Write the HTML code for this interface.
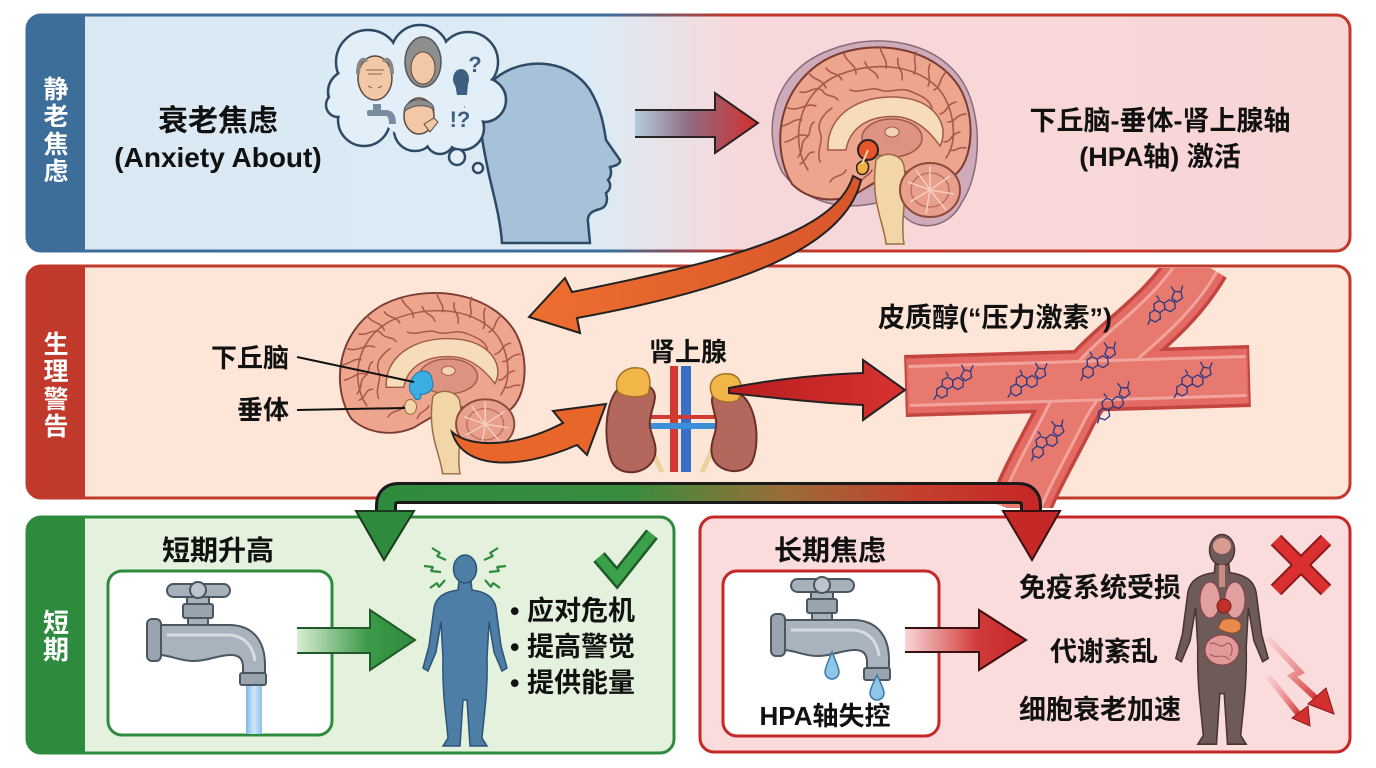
<!DOCTYPE html>
<html><head><meta charset="utf-8"><style>
html,body{margin:0;padding:0;background:#fff;}
svg{display:block;}
</style></head><body>
<svg width="1376" height="768" viewBox="0 0 1376 768" xmlns="http://www.w3.org/2000/svg" font-family="'Liberation Sans','Noto Sans CJK SC',sans-serif" font-weight="bold">
<defs>
  <linearGradient id="tg" gradientUnits="userSpaceOnUse" x1="27" y1="0" x2="1350" y2="0">
    <stop offset="0" stop-color="#d9e8f3"/><stop offset="0.43" stop-color="#dcebf5"/>
    <stop offset="0.54" stop-color="#f7d8da"/><stop offset="1" stop-color="#f8d6d6"/>
  </linearGradient>
  <linearGradient id="ts" gradientUnits="userSpaceOnUse" x1="27" y1="0" x2="1350" y2="0">
    <stop offset="0" stop-color="#3d6e9a"/><stop offset="0.44" stop-color="#3d6e9a"/>
    <stop offset="0.53" stop-color="#c0392b"/><stop offset="1" stop-color="#c0392b"/>
  </linearGradient>
  <linearGradient id="at" gradientUnits="userSpaceOnUse" x1="635" y1="0" x2="758" y2="0">
    <stop offset="0" stop-color="#b4cde0"/><stop offset="0.45" stop-color="#8f6a80"/><stop offset="1" stop-color="#d62e2e"/>
  </linearGradient>
  <linearGradient id="ga" gradientUnits="userSpaceOnUse" x1="297" y1="0" x2="415" y2="0">
    <stop offset="0" stop-color="#d9ecd3"/><stop offset="0.6" stop-color="#3c9a4a"/><stop offset="1" stop-color="#2e8b3e"/>
  </linearGradient>
  <linearGradient id="ra" gradientUnits="userSpaceOnUse" x1="905" y1="0" x2="1026" y2="0">
    <stop offset="0" stop-color="#f8d6d6"/><stop offset="0.6" stop-color="#d03a3a"/><stop offset="1" stop-color="#c62828"/>
  </linearGradient>
  <linearGradient id="bar" gradientUnits="userSpaceOnUse" x1="386" y1="0" x2="1031" y2="0">
    <stop offset="0" stop-color="#2e8b3e"/><stop offset="0.38" stop-color="#3a8d3e"/>
    <stop offset="0.62" stop-color="#9a6c38"/><stop offset="0.82" stop-color="#c4402e"/><stop offset="1" stop-color="#c62828"/>
  </linearGradient>
  <linearGradient id="og" gradientUnits="userSpaceOnUse" x1="860" y1="0" x2="530" y2="0">
    <stop offset="0" stop-color="#d8562a"/><stop offset="1" stop-color="#ee6e30"/>
  </linearGradient>
  <linearGradient id="wat" x1="0" y1="0" x2="1" y2="0">
    <stop offset="0" stop-color="#7fb8e4"/><stop offset="0.5" stop-color="#cfe8f8"/><stop offset="1" stop-color="#8cc2ea"/>
  </linearGradient>
  <linearGradient id="rdg" gradientUnits="userSpaceOnUse" x1="729" y1="0" x2="905" y2="0">
    <stop offset="0" stop-color="#b81e1e"/><stop offset="1" stop-color="#d83232"/>
  </linearGradient>
  <linearGradient id="zz" x1="0" y1="0" x2="1" y2="1">
    <stop offset="0" stop-color="#f3b0b0" stop-opacity="0.3"/><stop offset="1" stop-color="#d32f2f"/>
  </linearGradient>
  <clipPath id="vclip"><rect x="890" y="268" width="400" height="240"/></clipPath>

  <g id="brain">
    <path d="M22,142 C2,110 4,48 55,18 C100,-6 168,4 192,50 C206,80 202,118 186,132 C172,138 152,128 132,130 C115,133 102,142 86,152 C64,162 38,158 22,142 Z" fill="#eea58d" stroke="#7a3b30" stroke-width="2"/>
    <g fill="none" stroke="#a8584a" stroke-width="1.6" stroke-linecap="round">
      <path d="M38,128 C22,104 24,58 62,36 C102,16 156,22 175,56 C186,78 186,102 176,116"/>
      <path d="M15,100 C25,98 28,90 38,94"/><path d="M18,66 C30,70 36,60 46,64"/>
      <path d="M38,30 C45,40 52,36 56,46"/><path d="M74,12 C78,22 86,22 86,32"/>
      <path d="M110,5 C112,15 118,18 116,26"/><path d="M146,10 C142,20 148,24 144,32"/>
      <path d="M176,30 C168,38 172,44 164,48"/><path d="M196,72 C186,72 186,80 178,80"/>
      <path d="M196,106 C188,104 186,110 180,108"/><path d="M30,122 C38,118 36,110 44,110"/>
      <path d="M50,120 C46,108 54,100 50,90 C46,80 56,70 62,66"/>
      <path d="M80,48 C90,52 100,44 110,48 C120,52 130,44 142,50 C152,54 160,58 162,66"/>
      <path d="M28,115 C34,108 30,100 36,96 C42,92 38,84 44,80"/>
      <path d="M30,50 C40,52 42,44 52,48 C56,56 64,52 68,58"/>
      <path d="M95,20 C98,30 106,28 108,36"/><path d="M128,16 C126,26 134,28 132,38"/>
      <path d="M160,22 C156,32 162,36 158,44"/><path d="M186,60 C176,62 178,70 170,72"/>
      <path d="M190,90 C180,92 182,100 174,100"/><path d="M60,140 C64,132 72,136 76,128"/>
      <path d="M90,142 C92,134 100,134 102,128"/><path d="M12,84 C22,82 24,76 32,78"/>
      <path d="M56,26 C62,34 68,30 72,38"/>
    </g>
    <path d="M58,108 C56,70 95,50 135,56 C165,60 180,84 170,104 C163,94 150,78 130,75 C100,72 80,85 76,108 Z" fill="#f6dcb8" stroke="#a05a4a" stroke-width="1.5"/>
    <ellipse cx="122" cy="96" rx="30" ry="19" fill="#dd9282" stroke="#a05a4a" stroke-width="1.5"/>
    <ellipse cx="122" cy="90" rx="7" ry="5" fill="#f5d2b5" stroke="#a05a4a" stroke-width="1"/>
    <path d="M106,118 C114,108 132,112 134,124 C138,150 130,178 134,202 L116,202 C114,180 100,160 106,118 Z" fill="#f3d6a8" stroke="#9a6a40" stroke-width="1.5"/>
    <ellipse cx="160" cy="148" rx="30" ry="27" fill="#e8a08c" stroke="#8b4a3c" stroke-width="2"/>
    <g stroke="#f7cdbd" stroke-width="1.5" fill="none">
      <ellipse cx="160" cy="148" rx="19" ry="17" stroke="#c0705e"/>
      <path d="M160,148 L160,124 M160,148 L180,134 M160,148 L184,152 M160,148 L176,168 M160,148 L156,172 M160,148 L140,160 M160,148 L138,140 M160,148 L146,128"/>
    </g>
  </g>

  <g id="faucet">
    <rect x="40" y="12" width="22" height="12" fill="#a7b1bb" stroke="#4b5661" stroke-width="2"/>
    <rect x="20" y="1" width="63" height="13" rx="6.5" fill="#a7b1bb" stroke="#4b5661" stroke-width="2"/>
    <circle cx="51" cy="7" r="8" fill="#bcc5ce" stroke="#4b5661" stroke-width="2"/>
    <rect x="41" y="32" width="20" height="12" fill="#a7b1bb" stroke="#4b5661" stroke-width="2"/>
    <rect x="36" y="21" width="30" height="14" rx="2" fill="#9aa4ae" stroke="#4b5661" stroke-width="2"/>
    <path d="M12,42 H82 C106,42 118,58 118,82 V92 H96 V84 C96,76 92,72 84,72 C70,72 62,78 46,78 C32,78 24,72 12,72 Z" fill="#a9b3bd" stroke="#4b5661" stroke-width="2"/>
    <path d="M20,52 H80 C96,52 106,62 108,78" fill="none" stroke="#d5dce2" stroke-width="3"/>
    <rect x="0" y="36" width="14" height="42" rx="5" fill="#9aa4ae" stroke="#4b5661" stroke-width="2"/>
    <rect x="93" y="90" width="26" height="12" rx="2" fill="#9aa4ae" stroke="#4b5661" stroke-width="2"/>
  </g>

  <g id="mol" fill="none" stroke="#2b3a80" stroke-width="1.3">
    <path d="M6,0 L3,5.2 L-3,5.2 L-6,0 L-3,-5.2 L3,-5.2 Z"/>
    <path d="M16,-6 L13,-0.8 L7,-0.8 L4,-6 L7,-11.2 L13,-11.2 Z" transform="translate(-1,0.8)"/>
    <path d="M26,0 L23,5.2 L17,5.2 L14,0 L17,-5.2 L23,-5.2 Z" transform="translate(-2,0)"/>
    <path d="M24,-5 L30,-9 L35,-5 L33,1 L26,1 Z"/>
    <path d="M35,-5 L40,-9 M30,-9 L30,-15 M-6,0 L-11,3 M13,-11 L13,-16"/>
  </g>

  <path id="person" d="M459,581 L471,581 L472,590 C486,592 494,597 496,608 L501,646 L507,668 L502,671 L494,652 L489,622 L487,658 C488,690 484,716 482,738 L487,746 L470,746 L467,700 L463,700 L460,746 L443,746 L448,738 C446,716 442,690 443,658 L441,622 L436,652 L428,671 L423,668 L429,646 L434,608 C436,597 444,592 458,590 Z"/>
</defs>

<!-- ============ TOP PANEL ============ -->
<rect x="27" y="15" width="1323" height="236" rx="14" fill="url(#tg)"/>
<path d="M41,15 H85 V251 H41 A14,14 0 0 1 27,237 V29 A14,14 0 0 1 41,15 Z" fill="#3d6e9a"/>
<rect x="27" y="15" width="1323" height="236" rx="14" fill="none" stroke="url(#ts)" stroke-width="3"/>
<g fill="#fff" font-size="25" text-anchor="middle">
  <text x="56" y="98">静</text><text x="56" y="125">老</text><text x="56" y="153">焦</text><text x="56" y="180">虑</text>
</g>
<text x="218" y="131" font-size="30" text-anchor="middle" fill="#111">衰老焦虑</text>
<text x="218" y="167" font-size="28" text-anchor="middle" fill="#111">(Anxiety About)</text>

<!-- head silhouette -->
<path d="M502,243 C500,215 492,190 488,170 C480,130 470,90 505,72 C530,58 570,60 590,90 C602,110 604,128 606,140 L620,160 C621,164 615,166 610,167 C612,172 611,177 608,180 C612,185 610,190 606,193 C608,200 607,207 600,209 C592,211 587,214 588,222 L590,243 Z" fill="#a7c1d8" stroke="#2d4a66" stroke-width="2.5"/>
<!-- thought cloud -->
<g fill="#e3eff8" stroke="#2d4a66" stroke-width="2.5">
  <circle cx="368" cy="62" r="32"/><circle cx="420" cy="54" r="29"/><circle cx="468" cy="62" r="30"/>
  <circle cx="484" cy="100" r="22"/><circle cx="462" cy="128" r="22"/><circle cx="415" cy="130" r="21"/>
  <circle cx="364" cy="120" r="26"/><circle cx="350" cy="92" r="22"/><circle cx="338" cy="105" r="12"/>
  <circle cx="440" cy="140" r="14"/>
  <circle cx="457" cy="157" r="8"/><circle cx="478" cy="168" r="5"/>
</g>
<g fill="#e3eff8">
  <circle cx="368" cy="62" r="30.5"/><circle cx="420" cy="54" r="27.5"/><circle cx="468" cy="62" r="28.5"/>
  <circle cx="484" cy="100" r="20.5"/><circle cx="462" cy="128" r="20.5"/><circle cx="415" cy="130" r="19.5"/>
  <circle cx="364" cy="120" r="24.5"/><circle cx="350" cy="92" r="20.5"/><circle cx="338" cy="105" r="10.5"/>
  <circle cx="440" cy="140" r="12.5"/><circle cx="420" cy="94" r="46"/>
</g>
<!-- cloud icons -->
<ellipse cx="375" cy="78" rx="17" ry="22" fill="#f3c8a6" stroke="#5a4a40" stroke-width="1.5"/>
<path d="M358,74 C358,60 364,57 366,62 M392,74 C392,60 386,57 384,62" fill="none" stroke="#888" stroke-width="4"/>
<path d="M366,70 H384 M368,74 H382 M368,86 L372,88 M378,88 L382,86" stroke="#8a6450" stroke-width="1"/>
<ellipse cx="423" cy="62" rx="18" ry="25" fill="#8e8e8e" stroke="#555" stroke-width="1.5"/>
<ellipse cx="423" cy="68" rx="12" ry="16" fill="#f3c8a6" stroke="#5a4a40" stroke-width="1"/>
<ellipse cx="461" cy="79" rx="8" ry="10" fill="#3d5f80"/>
<path d="M455,84 L468,84 L467,95 L457,95 Z" fill="#3d5f80"/>
<text x="475" y="72" font-size="22" fill="#3d5f80" text-anchor="middle">?</text>
<rect x="367" y="110" width="20" height="6" rx="2" fill="#7a8da0"/>
<rect x="373" y="104" width="8" height="7" fill="#7a8da0"/>
<path d="M385,110 C394,110 396,116 396,124 H389 C389,118 388,116 385,116 Z" fill="#7a8da0"/>
<ellipse cx="419" cy="116" rx="15" ry="18" fill="#f3c8a6" stroke="#5a4a40" stroke-width="1.5"/>
<path d="M404,112 C404,96 434,96 434,110 C428,104 412,104 404,112 Z" fill="#8e8e8e" stroke="#555" stroke-width="1"/>
<path d="M424,124 L434,118 L438,122 L430,132 Z" fill="#f3c8a6" stroke="#5a4a40" stroke-width="1"/>
<text x="460" y="127" font-size="22" fill="#3d5f80" text-anchor="middle">!?</text>

<!-- top arrow -->
<path d="M635,110 H715 V93 L758,123 L715,153 V137 H635" fill="url(#at)" stroke="#2b2222" stroke-width="2" stroke-linejoin="miter"/>

<!-- top brain -->
<path d="M12,130 C-8,90 0,30 60,8 C110,-12 180,0 200,55 C214,95 206,140 192,160 C180,186 150,190 135,175 L110,160 C80,168 40,166 12,130 Z" transform="translate(770,42)" fill="#cfaab8" stroke="#8a6a7a" stroke-width="1.5"/>
<use href="#brain" transform="translate(770,42)"/>
<circle cx="868" cy="150" r="10" fill="#e8542a" stroke="#222" stroke-width="2"/>
<path d="M860,162 C866,158 870,164 868,170 C866,176 858,176 857,170 C856,166 857,164 860,162 Z" fill="#f0b040" stroke="#222" stroke-width="1.5"/>
<path d="M868,150 L862,164" stroke="#f6d6a0" stroke-width="2"/>

<text x="1160" y="130" font-size="27" text-anchor="middle" fill="#111">下丘脑-垂体-肾上腺轴</text>
<text x="1160" y="166" font-size="27" text-anchor="middle" fill="#111">(HPA轴) 激活</text>

<!-- ============ MIDDLE PANEL ============ -->
<rect x="27" y="266" width="1323" height="232" rx="14" fill="#fde6d8"/>
<path d="M41,266 H85 V498 H41 A14,14 0 0 1 27,484 V280 A14,14 0 0 1 41,266 Z" fill="#c0392b"/>
<rect x="27" y="266" width="1323" height="232" rx="14" fill="none" stroke="#c0392b" stroke-width="3"/>
<g fill="#fff" font-size="25" text-anchor="middle">
  <text x="56" y="353">生</text><text x="56" y="380">理</text><text x="56" y="408">警</text><text x="56" y="435">告</text>
</g>

<!-- blood vessels -->
<g fill="none" stroke-linecap="butt">
  <g clip-path="url(#vclip)">
    <path d="M1200,262 C1160,330 1100,350 1068,410 C1048,450 1030,480 1018,512" stroke="#c4443f" stroke-width="62"/>
  </g>
  <path d="M905,386 L1250,376" stroke="#c4443f" stroke-width="62"/>
  <g clip-path="url(#vclip)">
    <path d="M1200,262 C1160,330 1100,350 1068,410 C1048,450 1030,480 1018,512" stroke="#e36b64" stroke-width="55"/>
  </g>
  <path d="M907,386 L1248,376" stroke="#e36b64" stroke-width="55"/>
  <g clip-path="url(#vclip)">
    <path d="M1200,262 C1160,330 1100,350 1068,410 C1048,450 1030,480 1018,512" stroke="#f2a39c" stroke-width="42"/>
    <path d="M1200,262 C1160,330 1100,350 1068,410 C1048,450 1030,480 1018,512" stroke="#e7796f" stroke-width="36"/>
  </g>
  <path d="M909,386 L1246,376" stroke="#f2a39c" stroke-width="42"/>
  <path d="M909,386 L1246,376" stroke="#e7796f" stroke-width="36"/>
</g>
<use href="#mol" transform="translate(942,392) rotate(-28)"/>
<use href="#mol" transform="translate(1016,390) rotate(-28)"/>
<use href="#mol" transform="translate(1088,372) rotate(-35)"/>
<use href="#mol" transform="translate(1182,390) rotate(-30)"/>
<use href="#mol" transform="translate(1104,414) rotate(-40)"/>
<use href="#mol" transform="translate(1038,452) rotate(-40)"/>
<use href="#mol" transform="translate(1155,316) rotate(-35)"/>

<text x="995" y="327" font-size="27" text-anchor="middle" fill="#111">皮质醇(“压力激素”)</text>

<!-- middle brain -->
<use href="#brain" transform="translate(330,288) scale(0.97,0.92)"/>
<path d="M414,376 C420,368 432,370 432,380 C436,388 428,396 420,394 C424,400 414,402 414,396 C408,392 408,382 414,376 Z" fill="#3aaee0" stroke="#1c78a8" stroke-width="1"/>
<path d="M408,400 C414,398 418,404 416,410 C414,416 406,415 405,410 C404,405 405,402 408,400 Z" fill="#f3d6a8" stroke="#9a6a40" stroke-width="1"/>
<line x1="297" y1="357" x2="414" y2="382" stroke="#111" stroke-width="2"/>
<line x1="297" y1="410" x2="405" y2="408" stroke="#111" stroke-width="2"/>
<text x="250" y="367" font-size="26" text-anchor="middle" fill="#111">下丘脑</text>
<text x="263" y="419" font-size="26" text-anchor="middle" fill="#111">垂体</text>

<!-- kidneys -->
<rect x="670" y="366" width="8" height="106" fill="#d03a30"/>
<rect x="681" y="366" width="10" height="106" fill="#3a6fc8"/>
<line x1="648" y1="426" x2="716" y2="426" stroke="#3a8fd8" stroke-width="6"/>
<line x1="648" y1="417" x2="716" y2="417" stroke="#d03a30" stroke-width="4"/>
<line x1="648" y1="442" x2="662" y2="472" stroke="#e8d2a0" stroke-width="5"/>
<line x1="716" y1="442" x2="702" y2="472" stroke="#e8d2a0" stroke-width="5"/>
<path d="M625,385 C605,390 602,440 612,462 C620,478 650,475 655,455 C658,442 648,432 650,420 C652,405 660,395 650,387 C643,381 632,382 625,385 Z" fill="#b4675c" stroke="#6b3028" stroke-width="2"/>
<path d="M618,392 C612,378 625,366 638,368 C650,368 652,382 648,394 C640,398 625,398 618,392 Z" fill="#f1b548" stroke="#a0702a" stroke-width="1.5"/>
<path d="M735,392 C755,396 762,440 752,462 C745,476 716,474 712,455 C709,442 718,432 716,420 C714,408 708,398 716,392 C722,386 730,388 735,392 Z" fill="#b4675c" stroke="#6b3028" stroke-width="2"/>
<path d="M712,395 C706,380 718,372 730,374 C742,376 744,390 738,400 C730,404 716,402 712,395 Z" fill="#f1b548" stroke="#a0702a" stroke-width="1.5"/>
<text x="688" y="361" font-size="26" text-anchor="middle" fill="#111">肾上腺</text>

<!-- middle red arrow -->
<path d="M729,388 C780,378 830,374 863,373 L863,360 L905,390 L863,420 L863,405 C820,403 775,398 729,393 Z" fill="url(#rdg)" stroke="#222" stroke-width="2" stroke-linejoin="miter"/>

<!-- lower orange arrow -->
<path d="M452,432 C462,468 515,472 577,445 L587,455 L606,404 L553,411 L563,423 C515,448 470,448 452,432 Z" fill="#e8662a" stroke="#222" stroke-width="2"/>

<!-- ============ BOTTOM LEFT ============ -->
<rect x="27" y="517" width="647" height="236" rx="14" fill="#e4f1dc"/>
<path d="M41,517 H85 V753 H41 A14,14 0 0 1 27,739 V531 A14,14 0 0 1 41,517 Z" fill="#2e8b3e"/>
<rect x="27" y="517" width="647" height="236" rx="14" fill="none" stroke="#2e8b3e" stroke-width="3"/>
<g fill="#fff" font-size="26" text-anchor="middle">
  <text x="56" y="632">短</text><text x="56" y="659">期</text>
</g>
<text x="218" y="560" font-size="28" text-anchor="middle" fill="#111">短期升高</text>
<rect x="108" y="571" width="224" height="164" rx="14" fill="#fff" stroke="#2e8b3e" stroke-width="3"/>
<rect x="246" y="684" width="16" height="50" fill="url(#wat)"/>
<use href="#faucet" transform="translate(147,583)"/>
<path d="M297,628 H370 V610 L415,640 L370,670 V653 H297" fill="url(#ga)" stroke="#1f5a28" stroke-width="2"/>
<use href="#person" fill="#4d7ea6" stroke="#2c5478" stroke-width="1.5"/>
<ellipse cx="465" cy="569" rx="11.5" ry="14" fill="#4d7ea6" stroke="#2c5478" stroke-width="1.5"/>
<g fill="none" stroke="#2e8b3e" stroke-width="2.2" stroke-linejoin="bevel">
  <path d="M432,548 L440,553 L437,556 L446,560"/><path d="M498,548 L490,553 L493,556 L484,560"/>
  <path d="M424,566 L433,567 L431,571 L441,572"/><path d="M506,566 L497,567 L499,571 L489,572"/>
  <path d="M430,588 L437,583 L439,587 L445,580"/><path d="M500,588 L493,583 L491,587 L485,580"/>
</g>
<polyline points="599,557 617,578 652,534" fill="none" stroke="#1f5a28" stroke-width="15" stroke-linejoin="miter"/>
<polyline points="599,557 617,578 652,534" fill="none" stroke="#3aa04a" stroke-width="10" stroke-linejoin="miter"/>
<g font-size="27" fill="#111">
  <text x="510" y="620">• 应对危机</text>
  <text x="510" y="656">• 提高警觉</text>
  <text x="510" y="692">• 提供能量</text>
</g>

<!-- ============ BOTTOM RIGHT ============ -->
<rect x="700" y="517" width="650" height="235" rx="14" fill="#fadcdc" stroke="#c62828" stroke-width="3"/>
<text x="830" y="560" font-size="28" text-anchor="middle" fill="#111">长期焦虑</text>
<rect x="723" y="571" width="216" height="165" rx="14" fill="#fff" stroke="#c62828" stroke-width="3"/>
<use href="#faucet" transform="translate(771,578)"/>
<g fill="#8ec5ea" stroke="#3a78a8" stroke-width="1.5">
  <path d="M832,652 C836,662 839,668 839,672 A7,7 0 0 1 825,672 C825,668 828,662 832,652 Z"/>
  <path d="M877,675 C881,684 884,689 884,693 A7,7 0 0 1 870,693 C870,689 873,684 877,675 Z"/>
</g>
<text x="825" y="725" font-size="26" text-anchor="middle" fill="#111">HPA轴失控</text>
<path d="M905,628 H979 V610 L1026,640 L979,670 V652 H905" fill="url(#ra)" stroke="#3a1010" stroke-width="2"/>
<g font-size="27" fill="#111" text-anchor="middle">
  <text x="1100" y="597">免疫系统受损</text>
  <text x="1104" y="661">代谢紊乱</text>
  <text x="1100" y="719">细胞衰老加速</text>
</g>
<!-- anatomy body -->
<use href="#person" transform="translate(1222,533) scale(1.1) translate(-465,-554)" fill="#6e5a58" stroke="#4a3430" stroke-width="1.4"/>
<ellipse cx="1222" cy="550" rx="12.5" ry="15.5" fill="#6e5a58" stroke="#4a3430" stroke-width="1.5"/>
<ellipse cx="1222" cy="546" rx="9" ry="8" fill="#d99a90"/>
<rect x="1219" y="565" width="6" height="22" fill="#c98a80"/>
<ellipse cx="1210" cy="600" rx="10" ry="18" fill="#e0a0a0" stroke="#8a4040" stroke-width="1"/>
<ellipse cx="1235" cy="600" rx="10" ry="18" fill="#e0a0a0" stroke="#8a4040" stroke-width="1"/>
<circle cx="1224" cy="606" r="7" fill="#c0302a" stroke="#7a1a1a" stroke-width="1"/>
<path d="M1222,620 C1236,616 1244,622 1240,630 C1234,636 1224,632 1218,628 Z" fill="#e88a4a" stroke="#8a4a2a" stroke-width="1"/>
<ellipse cx="1222" cy="650" rx="17" ry="15" fill="#e09a9a" stroke="#8a4040" stroke-width="1"/>
<path d="M1210,644 C1216,640 1220,650 1226,644 C1232,640 1234,652 1230,656 M1210,654 C1216,660 1222,652 1230,660" fill="none" stroke="#a85050" stroke-width="1"/>
<!-- X -->
<g stroke-linecap="butt">
  <path d="M1276,540 L1326,590 M1326,540 L1276,590" stroke="#8a1a1a" stroke-width="15"/>
  <path d="M1276,540 L1326,590 M1326,540 L1276,590" stroke="#dc3030" stroke-width="11"/>
</g>
<!-- zigzag arrows -->
<path d="M1268,638 L1300,672 L1292,676 L1318,700" fill="none" stroke="url(#zz)" stroke-width="6"/>
<polygon points="1308,704 1334,714 1326,688" fill="#d32f2f" stroke="#8a1a1a" stroke-width="1"/>
<path d="M1268,676 L1300,716" fill="none" stroke="url(#zz)" stroke-width="6"/>
<polygon points="1292,718 1310,726 1308,706" fill="#d32f2f" stroke="#8a1a1a" stroke-width="1"/>

<!-- ============ ARROWS OVER PANELS ============ -->
<path d="M853,176 C835,235 720,262 572,292 L565,278 L529,317 L580,333 L577,318 C730,290 845,250 861,180 Z" fill="url(#og)" stroke="#222" stroke-width="2" stroke-linejoin="miter"/>

<path d="M386,514 V506 Q386,493 399,493 H1018 Q1031,493 1031,506 V514" fill="none" stroke="#1a1a1a" stroke-width="22"/>
<path d="M386,515 V506 Q386,493 399,493 H1018 Q1031,493 1031,506 V515" fill="none" stroke="url(#bar)" stroke-width="16"/>
<polygon points="356,511 414,511 384,560" fill="#2e8b3e" stroke="#1a3a1a" stroke-width="2" stroke-linejoin="miter"/>
<polygon points="1003,511 1060,511 1032,560" fill="#c62828" stroke="#3a1010" stroke-width="2" stroke-linejoin="miter"/>
</svg>
</body></html>
